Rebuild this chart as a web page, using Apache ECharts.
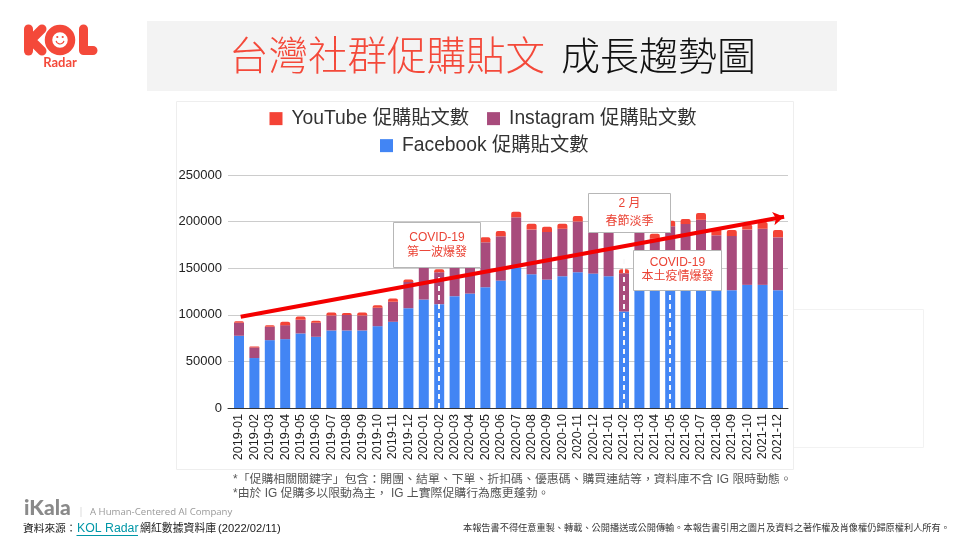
<!DOCTYPE html>
<html><head><meta charset="utf-8">
<style>html,body{margin:0;padding:0;background:#fff}#c{width:960px;height:540px}</style>
<script src="https://cdn.jsdelivr.net/npm/echarts@6/dist/echarts.min.js"></script>
</head><body><div id="c"></div>
<script>
const categories = ['2019-01','2019-02','2019-03','2019-04','2019-05','2019-06','2019-07','2019-08','2019-09','2019-10','2019-11','2019-12','2020-01','2020-02','2020-03','2020-04','2020-05','2020-06','2020-07','2020-08','2020-09','2020-10','2020-11','2020-12','2021-01','2021-02','2021-03','2021-04','2021-05','2021-06','2021-07','2021-08','2021-09','2021-10','2021-11','2021-12'];
const facebook = [77500,53600,72800,73900,80000,76400,83200,83200,83200,87800,92500,107100,116400,111400,120000,122800,129600,136700,150600,143500,137800,141400,145700,144200,141400,103500,128000,126000,128000,130000,130000,126000,126400,132100,132100,126400];
const instagram = [13900,11400,14300,15000,14600,15000,16000,16600,16000,19700,21400,28200,36000,34300,42000,47000,48200,47500,54000,47900,51100,51000,54300,46000,48000,41100,64000,55700,67000,67400,72000,59300,58200,59300,60300,56700];
const youtube = [1800,1000,1800,3600,3600,2100,3300,2200,3300,2800,3600,2500,4000,3200,4000,4000,5300,5800,6000,6400,5700,5400,6000,5000,5000,4300,5000,5300,6000,5400,7200,7100,6400,5600,7200,7900];
const seriesNames = ['Facebook 促購貼文數','Instagram 促購貼文數','YouTube 促購貼文數'];
const dashedMarks = [['2020-02',145000],['2021-02',160000],['2021-05',150000]];
const trendStart = [0.0227, 98000], trendEnd = [0.993, 205300];
const CJK = '"Liberation Sans","Noto Sans CJK TC",sans-serif';
const RED = '#f44336';

const chart = echarts.init(document.getElementById('c'), null, {renderer:'canvas'});
function T(text,x,y,size,fill,extra){return {type:'text',z:60,silent:true,style:{text,x,y,fill,font:(extra&&extra.font)||`${size}px ${CJK}`,textAlign:(extra&&extra.align)||'left',textVerticalAlign:'middle'}};}
function box(x,y,w,h,y1,y2,l1,l2){return [
  {type:'rect',z:50,silent:true,shape:{x,y,width:w,height:h},style:{fill:'#fff',stroke:'#b7b7b7',lineWidth:1}},
  T(l1,x+w/2,y1,12,'#ea4335',{align:'center'}),
  T(l2,x+w/2,y2,12,'#ea4335',{align:'center'})];}
const logoStroke={stroke:'#f4493a',lineWidth:9,lineCap:'round',lineJoin:'round',fill:null};
const graphics=[
 {type:'rect',z:-5,silent:true,shape:{x:147,y:21,width:690,height:70},style:{fill:'#f3f3f3'}},
 {type:'rect',z:-5,silent:true,shape:{x:793.5,y:309.5,width:130,height:138},style:{fill:'#fff',stroke:'#f2f2f2',lineWidth:1}},
 {type:'rect',z:-4,silent:true,shape:{x:176.5,y:101.5,width:617,height:368},style:{fill:'#fff',stroke:'#eeeeee',lineWidth:1}},
 {type:'text',z:60,silent:true,style:{text:'台灣社群促購貼文',x:229,y:55,fill:'#f4493a',font:`300 39.5px "Noto Sans CJK TC",sans-serif`,textVerticalAlign:'middle'}},
 {type:'text',z:60,silent:true,style:{text:'成長趨勢圖',x:561,y:55,fill:'#111',font:`300 39px "Noto Sans CJK TC",sans-serif`,textVerticalAlign:'middle'}},
 // logo
 {type:'line',z:60,silent:true,shape:{x1:28.5,y1:29,x2:28.5,y2:51},style:logoStroke},
 {type:'polyline',z:60,silent:true,shape:{points:[[42,29],[31,40],[42,51]]},style:logoStroke},
 {type:'circle',z:60,silent:true,shape:{cx:60,cy:40,r:11.5},style:{fill:'#fff',stroke:'#f4493a',lineWidth:7.5}},
 {type:'polyline',z:60,silent:true,shape:{points:[[83.5,29],[83.5,50.5],[93,50.5]]},style:logoStroke},
 {type:'circle',z:61,silent:true,shape:{cx:57.3,cy:37,r:1.1},style:{fill:'#f4493a'}},
 {type:'circle',z:61,silent:true,shape:{cx:62.7,cy:37,r:1.1},style:{fill:'#f4493a'}},
 {type:'arc',z:61,silent:true,shape:{cx:60,cy:40,r:4,startAngle:0.2,endAngle:Math.PI-0.2,clockwise:true},style:{stroke:'#f4493a',lineWidth:1.2,fill:null}},
 T('Radar',60,63,0,'#f4493a',{align:'center',font:'bold 13px "Lato",sans-serif'}),
 // footer
 T('*「促購相關關鍵字」包含：開團、結單、下單、折扣碼、優惠碼、購買連結等，資料庫不含 IG 限時動態。',233,480,11.9,'#555'),
 T('*由於 IG 促購多以限動為主， IG 上實際促購行為應更蓬勃。',233,494,11.9,'#555'),
 T('iKala',24,508,0,'#8a8a8a',{font:'900 21px "Lato",sans-serif'}),
 {type:'line',z:60,silent:true,shape:{x1:81,y1:507,x2:81,y2:517},style:{stroke:'#ddd',lineWidth:1}},
 T('A Human-Centered AI Company',90,512,0,'#999',{font:'9.6px "Open Sans",sans-serif'}),
 T('資料來源：',23,529,10.7,'#222'),
 T('KOL Radar',77,529,0,'#0097a7',{font:'12.3px "Liberation Sans",sans-serif'}),
 {type:'line',z:60,silent:true,shape:{x1:76.5,y1:535.5,x2:138,y2:535.5},style:{stroke:'#0097a7',lineWidth:1}},
 T('網紅數據資料庫',140,529,10.9,'#222'),
 T('(2022/02/11)',218,529,0,'#222',{font:'11.2px "Liberation Sans",sans-serif'}),
 T('本報告書不得任意重製、轉載、公開播送或公開傳輸。本報告書引用之圖片及資料之著作權及肖像權仍歸原權利人所有。',463,528,9.2,'#333'),
 ...box(393.5,222.5,87,45,238,253,'COVID-19','第一波爆發'),
 ...box(588.5,193.5,82,39,204,222,'2 月','春節淡季'),
 ...box(633.5,250.5,88,40,262.7,276.7,'COVID-19','本土疫情爆發')
];
const dashItems = dashedMarks.map(d=>[
  {xAxis:d[0],yAxis:0,symbol:'none',lineStyle:{color:'#f9f9f9',type:[5,4],width:2,opacity:1}},
  {xAxis:d[0],yAxis:d[1],symbol:'none'}]);
const arrowItem=[
  {coord:trendStart,symbol:'none',lineStyle:{color:'#f40000',type:'solid',width:4,opacity:1}},
  {coord:trendEnd,symbol:'arrow',symbolSize:[10,11]}];
const colors=['#4285f4','#a84b7c',RED];
const legendText={fontSize:19.3,color:'#333',fontFamily:CJK,padding:[0,0,0,4]};
chart.setOption({
 animation:false,
 backgroundColor:'#fff',
 legend:[
  {data:[seriesNames[2],seriesNames[1]],left:264.5,top:104,itemWidth:13,itemHeight:13,itemGap:18,icon:'rect',selectedMode:false,textStyle:legendText},
  {data:[seriesNames[0]],left:375,top:131,itemWidth:13,itemHeight:13,icon:'rect',selectedMode:false,textStyle:legendText}
 ],
 grid:[
  {left:228,width:560,top:175,height:233,containLabel:false},
  {left:231.3,width:554.4,top:175,height:233,containLabel:false}
 ],
 xAxis:[
  {type:'value',gridIndex:0,min:0,max:1,axisLabel:{show:false},axisTick:{show:false},splitLine:{show:false},axisLine:{show:true,onZero:false,lineStyle:{color:'#333',width:1}}},
  {type:'category',gridIndex:1,data:categories,axisLine:{show:false},axisTick:{show:false},
   axisLabel:{rotate:90,interval:0,margin:6,fontSize:12.6,color:'#222',fontFamily:'"Liberation Sans",sans-serif'}}
 ],
 yAxis:[
  {type:'value',gridIndex:0,min:0,max:250000,interval:50000,axisLine:{show:false},axisTick:{show:false},
   axisLabel:{margin:6,fontSize:13,color:'#222',fontFamily:'"Liberation Sans",sans-serif',formatter:v=>String(v)},splitLine:{show:true,lineStyle:{color:'#cccccc',width:1}}},
  {type:'value',gridIndex:1,min:0,max:250000,interval:50000,show:false,splitLine:{show:false}}
 ],
 series:[
  {name:seriesNames[0],type:'bar',xAxisIndex:1,yAxisIndex:1,stack:'a',barWidth:10,data:facebook,itemStyle:{color:colors[0]},silent:true},
  {name:seriesNames[1],type:'bar',xAxisIndex:1,yAxisIndex:1,stack:'a',barWidth:10,data:instagram,itemStyle:{color:colors[1]},silent:true},
  {name:seriesNames[2],type:'bar',xAxisIndex:1,yAxisIndex:1,stack:'a',barWidth:10,data:youtube,itemStyle:{color:colors[2],borderRadius:[2,2,0,0]},silent:true,
   markLine:{silent:true,animation:false,label:{show:false},emphasis:{disabled:true},data:dashItems}},
  {name:'trend',type:'line',xAxisIndex:0,yAxisIndex:0,z:6,data:[],silent:true,
   markLine:{silent:true,animation:false,label:{show:false},emphasis:{disabled:true},data:[arrowItem]}}
 ],
 graphic:{elements:graphics}
});
</script></body></html>
